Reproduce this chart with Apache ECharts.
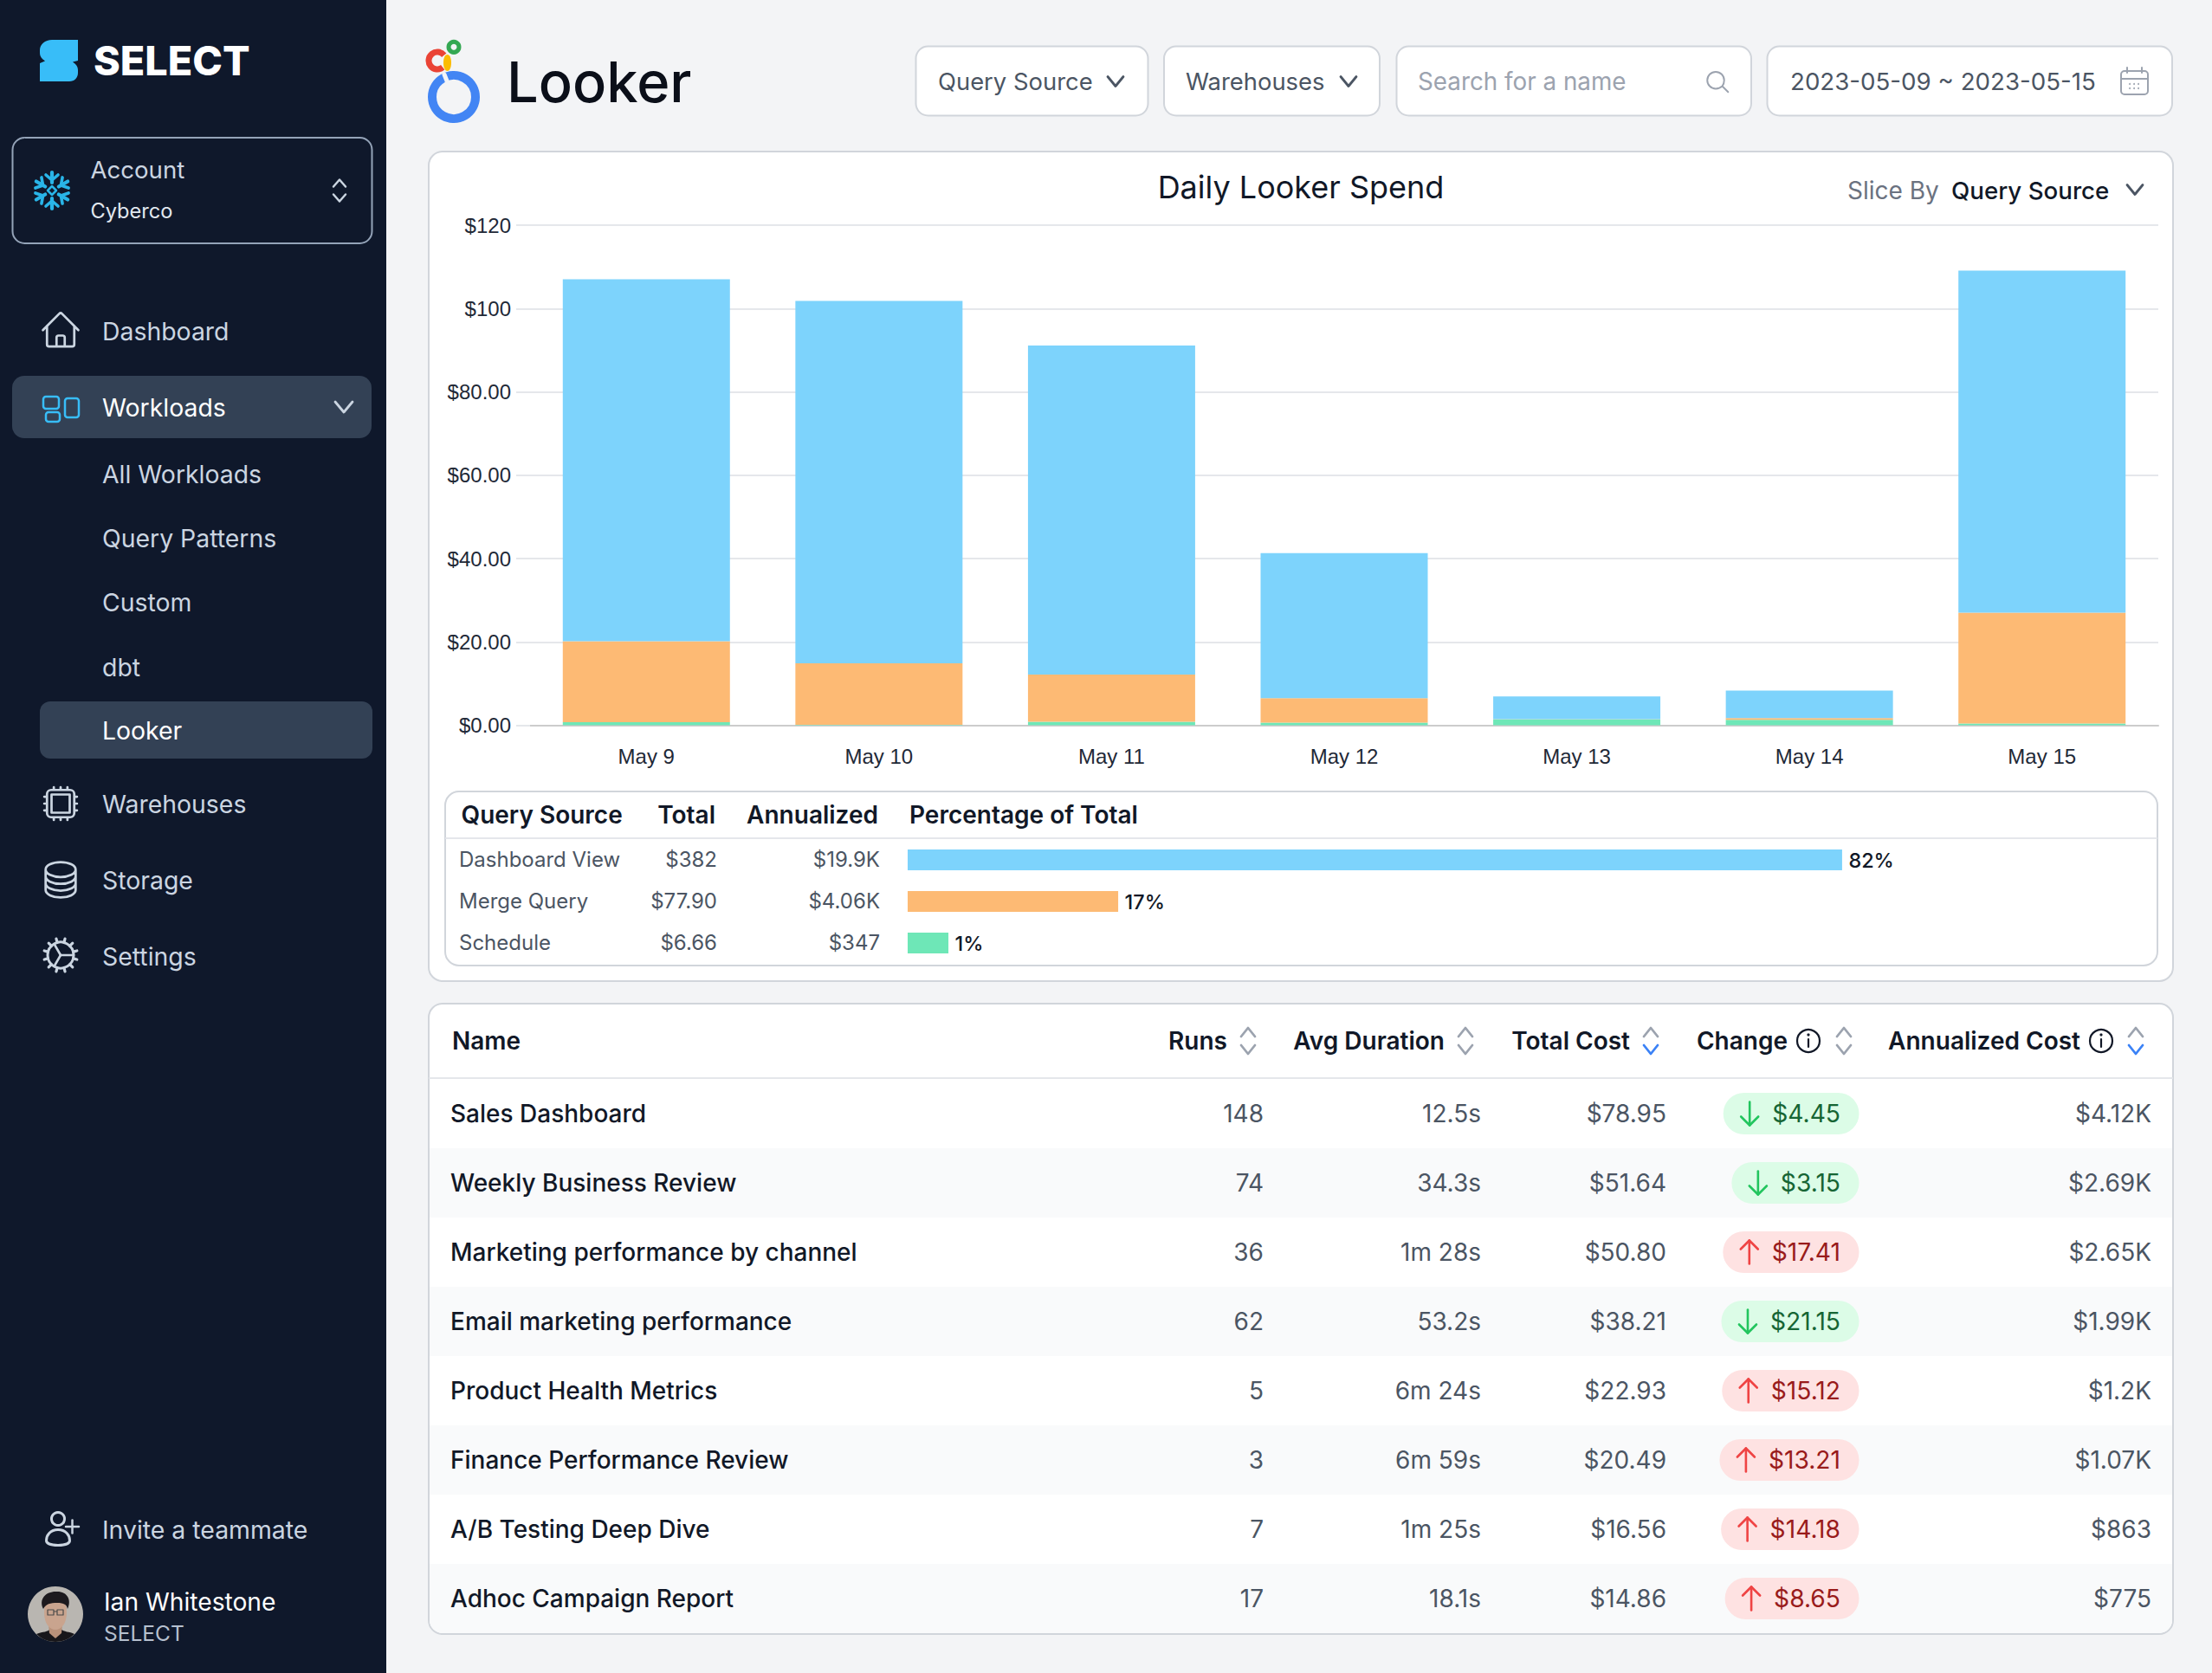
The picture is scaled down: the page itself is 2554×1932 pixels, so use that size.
<!DOCTYPE html>
<html><head><meta charset="utf-8">
<style>html,body{margin:0;padding:0;background:#f3f4f6;overflow:hidden}#c{width:2554px;height:1932px}</style>
<script src="https://cdn.jsdelivr.net/npm/echarts@6/dist/echarts.min.js"></script>
</head><body><div id="c"></div>
<script>
// ---------- chart data ----------
const days = ['May 9','May 10','May 11','May 12','May 13','May 14','May 15'];
const scheduleSpend = [0.75,0.1,0.85,0.6,1.4,1.3,0.4];
const mergeQuerySpend = [19.4,14.75,11.3,5.9,0.05,0.43,26.6];
const dashboardViewSpend = [86.85,86.95,78.95,34.8,5.45,6.57,82.1];
const yTickLabels = ['$0.00','$20.00','$40.00','$60.00','$80.00','$100','$120'];

const sourceNames = ['Dashboard View','Merge Query','Schedule'];
const sourceTotals = ['$382','$77.90','$6.66'];
const sourceAnnualized = ['$19.9K','$4.06K','$347'];
const sourcePctLabels = ['82%','17%','1%'];
const sourceBarLengths = [84.16,18.96,3.67];

const workloadNames = ['Sales Dashboard','Weekly Business Review','Marketing performance by channel','Email marketing performance','Product Health Metrics','Finance Performance Review','A/B Testing Deep Dive','Adhoc Campaign Report'];
const workloadRuns = ['148','74','36','62','5','3','7','17'];
const workloadDurations = ['12.5s','34.3s','1m 28s','53.2s','6m 24s','6m 59s','1m 25s','18.1s'];
const workloadCosts = ['$78.95','$51.64','$50.80','$38.21','$22.93','$20.49','$16.56','$14.86'];
const workloadChanges = ['$4.45','$3.15','$17.41','$21.15','$15.12','$13.21','$14.18','$8.65'];
const workloadTrend = ['down','down','up','down','up','up','up','up'];
const workloadAnnualized = ['$4.12K','$2.69K','$2.65K','$1.99K','$1.2K','$1.07K','$863','$775'];

// ---------- drawing helpers ----------
const INTER = 'Inter';
const E = [];
const G = echarts.graphic;
let pid = 0;
function rect(x,y,w,h,r,fill,stroke,lw,z){E.push({type:'rect',z:z==null?-10:z,shape:{x,y,width:w,height:h,r},style:{fill:fill||'none',stroke:stroke||'none',lineWidth:lw||0}});}
function txt(x,y,s,size,color,weight,align,family){E.push({type:'text',z:5,x,y,style:{text:s,fill:color,fontFamily:family||INTER,fontSize:size,fontWeight:weight||400,textAlign:align||'left',textVerticalAlign:'middle'}});}
function poly(points,color,lw){E.push({type:'polyline',z:5,shape:{points},style:{fill:'none',stroke:color,lineWidth:lw||2.5,lineCap:'round',lineJoin:'round'}});}
function circ(cx,cy,r,fill,stroke,lw,z){E.push({type:'circle',z:z==null?5:z,shape:{cx,cy,r},style:{fill:fill||'none',stroke:stroke||'none',lineWidth:lw||0}});}
function ell(cx,cy,rx,ry,fill){path(`M${cx-rx} ${cy}C${cx-rx} ${cy-ry*1.33} ${cx+rx} ${cy-ry*1.33} ${cx+rx} ${cy}C${cx+rx} ${cy+ry*1.33} ${cx-rx} ${cy+ry*1.33} ${cx-rx} ${cy}Z`,0,0,1,{fill});}
function path(d,x,y,s,style){const n='icon'+(pid++);G.registerShape(n,G.extendPath(d));E.push({type:n,z:6,x,y,scaleX:s,scaleY:s,style:Object.assign({fill:'none',lineCap:'round',lineJoin:'round'},style)});}
function chev(cx,cy,hw,hh,color,lw,up){const a=up?cy+hh:cy-hh,b=up?cy-hh:cy+hh;poly([[cx-hw,a],[cx,b],[cx+hw,a]],color,lw);}

// ---------- page chrome ----------
rect(0,0,446,1932,0,'#0f182b');
// logo
path('M60 46L90 46L90 70L84 71.5C87 74 90 76 90 81L90 84C90 90 86 94 80 94L46 94L46 73L52 70.5C49 68 46 66 46 61L46 58C46 51 52 46 60 46Z',0,0,1,{fill:'#38bdf8'});
txt(108,69.5,'SELECT',46.7,'#ffffff',800);
// account
rect(14.5,159,415,122,14,'none','#94a3b8',2);
for(let i=0;i<6;i++){const a=Math.PI/6+i*Math.PI/3,c=Math.cos(a),s=Math.sin(a),cx=60,cy=220;
  poly([[cx+c*9,cy+s*9],[cx+c*21,cy+s*21]],'#29b5e8',4.2);
  poly([[cx+c*18-s*7,cy+s*18+c*7],[cx+c*12,cy+s*12],[cx+c*18+s*7,cy+s*18-c*7]],'#29b5e8',3.6);}
path('M60 215L65 220L60 225L55 220Z',0,0,1,{stroke:'#29b5e8',lineWidth:2.5});
txt(104.5,196,'Account',27.6,'#cbd5e1');
txt(104.5,243.5,'Cyberco',23.6,'#e2e8f0');
chev(392,211.5,7,4,'#cbd5e1',2.5,true);chev(392,228.5,7,4,'#cbd5e1',2.5,false);
// nav
const IC='#cbd5e1',sw={stroke:IC,lineWidth:1.3},NAV=28.4;
path('M2.25 12l8.954-8.955c.44-.439 1.152-.439 1.591 0L21.75 12M4.5 9.75v10.125c0 .621.504 1.125 1.125 1.125H9.75v-4.875c0-.621.504-1.125 1.125-1.125h2.25c.621 0 1.125.504 1.125 1.125V21h4.125c.621 0 1.125-.504 1.125-1.125V9.75M8.25 21h8.25',44.8,356,2.1,sw);
txt(118,382.5,'Dashboard',NAV,'#cbd5e1',400);
rect(14,434,415,72,14,'#334155');
rect(50,458,18,14,3,'none','#38bdf8',2.5,5);rect(53,476,16,11,3,'none','#38bdf8',2.5,5);rect(75,460,16,22,3,'none','#38bdf8',2.5,5);
txt(118,470.5,'Workloads',NAV,'#ffffff',400);
chev(397,470,10,6,'#cbd5e1',2.8,false);
txt(118,547.5,'All Workloads',NAV,'#cbd5e1');
txt(118,621.5,'Query Patterns',NAV,'#cbd5e1');
txt(118,695.5,'Custom',NAV,'#cbd5e1');
txt(118,770.5,'dbt',NAV,'#cbd5e1');
rect(46,810,384,66,12,'#334155');
txt(118,843.5,'Looker',NAV,'#ffffff',400);
path('M8.25 3v1.5M4.5 8.25H3m18 0h-1.5M4.5 12H3m18 0h-1.5m-15 3.75H3m18 0h-1.5M8.25 19.5V21M12 3v1.5m0 15V21m3.75-18v1.5m0 15V21m-9-1.5h10.5c1.243 0 2.25-1.007 2.25-2.25V6.75c0-1.243-1.007-2.25-2.25-2.25H6.75C5.507 4.5 4.5 5.507 4.5 6.75v10.5c0 1.243 1.007 2.25 2.25 2.25zM7 7h10v10H7z',44.8,902.8,2.1,sw);
txt(118,928.5,'Warehouses',NAV,'#cbd5e1');
path('M20.25 6.375c0 2.278-3.694 4.125-8.25 4.125S3.75 8.653 3.75 6.375m16.5 0c0-2.278-3.694-4.125-8.25-4.125S3.75 4.097 3.75 6.375m16.5 0v11.25c0 2.278-3.694 4.125-8.25 4.125s-8.25-1.847-8.25-4.125V6.375m16.5 0v3.75m-16.5-3.75v3.75m16.5 0v3.75C20.25 16.153 16.556 18 12 18s-8.25-1.847-8.25-4.125v-3.75m16.5 0c0 2.278-3.694 4.125-8.25 4.125s-8.25-1.847-8.25-4.125',44.8,990.8,2.1,sw);
txt(118,1016.5,'Storage',NAV,'#cbd5e1');
// settings gear: ring, twelve teeth, three spokes
circ(70,1103,15,'none',IC,3);
for(let i=0;i<12;i++){const a=i*Math.PI/6+Math.PI/12,c=Math.cos(a),s=Math.sin(a);poly([[70+c*15,1103+s*15],[70+c*19.5,1103+s*19.5]],IC,3.2);}
for(let i=0;i<3;i++){const a=i*2*Math.PI/3,c=Math.cos(a),s=Math.sin(a);poly([[70,1103],[70+c*15,1103+s*15]],IC,2.6);}
txt(118,1104.5,'Settings',NAV,'#cbd5e1');
// invite
circ(67,1754,7.5,'none',IC,3);
path('M67 1766.5C58 1766.5 53.5 1773 53.5 1779C53.5 1782 58 1784.5 67 1784.5C76 1784.5 80.5 1782 80.5 1779C80.5 1773 76 1766.5 67 1766.5Z',0,0,1,{stroke:IC,lineWidth:3});
poly([[76,1763],[91,1763]],IC,2.5);poly([[83.5,1755.5],[83.5,1770.5]],IC,2.5);
txt(118,1766.5,'Invite a teammate',NAV,'#cbd5e1');
// avatar
circ(64,1864,32,'#b9b6b1');
path('M42 1887C50 1884 55 1885 58 1881L70 1881C74 1885 80 1884 86 1887C80 1893 72 1896 64 1896C56 1896 48 1893 42 1887Z',0,0,1,{fill:'#17161a'});
path('M56 1876L72 1876L71 1886L64 1892L57 1886Z',0,0,1,{fill:'#b8917a'});
ell(64,1862,13,20,'#c9a48e');
path('M50 1858C44 1846 54 1837 66 1838C78 1838 83 1848 78 1858C77 1853 74 1851 66 1851C58 1851 53 1852 50 1858Z',0,0,1,{fill:'#1d1a1e'});
path('M55 1859H62V1865H55ZM66 1859H73V1865H66ZM62 1861H66',0,0,1,{stroke:'#4a4a4a',lineWidth:1.2});
poly([[59,1873],[69,1873]],'#a3685a',1.6);
txt(120,1849.5,'Ian Whitestone',28.2,'#ffffff');
txt(120,1886,'SELECT',24.5,'#b6c0cf');
// looker logo
circ(524,112,25,'none','#4285f4',10);
poly([[513,86],[517,96]],'#f3f4f6',5);
E.push({type:'arc',z:6,shape:{cx:505,cy:70,r:10,startAngle:0.9,endAngle:5.6,clockwise:true},style:{fill:'none',stroke:'#ea4335',lineWidth:7}});
circ(524,54.3,6,'none','#34a853',5);
ell(516.5,72.5,4.5,9.5,'#fbbc04');
txt(585,94,'Looker',65,'#0b0f19',500);
// toolbar
[[1057.5,268],[1344,249],[1612.5,409.5],[2040.5,467.5]].forEach(b=>rect(b[0],53.5,b[1],80,14,'#ffffff','#d1d5db',2));
txt(1083,94,'Query Source',27.4,'#4b5563');chev(1288,94,9,5.5,'#4b5563',2.8,false);
txt(1369,94,'Warehouses',27.4,'#4b5563');chev(1557,94,9,5.5,'#4b5563',2.8,false);
txt(1637,94,'Search for a name',27.8,'#9ca3af');
path('M21 21l-5.197-5.197m0 0C16.76 14.445 17.5 13.2 17.5 10.5c0-4.142-3.358-7.5-7.5-7.5s-7.5 3.358-7.5 7.5 3.358 7.5 7.5 7.5c2.3 0 4.4-.9 5.803-2.197z',1968,79,1.3,{stroke:'#9ca3af',lineWidth:1.5});
txt(2067,94,'2023-05-09 ~ 2023-05-15',27.7,'#4b5563');
rect(2449,82,31,27,4,'none','#9ca3af',2,5);poly([[2449,91],[2480,91]],'#9ca3af',2);poly([[2456,78],[2456,84]],'#9ca3af',2);poly([[2473,78],[2473,84]],'#9ca3af',2);
[[2459,97],[2464,97],[2469,97],[2459,102],[2464,102],[2469,102]].forEach(p=>circ(p[0],p[1],1,'#9ca3af'));
// chart card
rect(495,175,2014,958,16,'#ffffff','#d1d5db',2);
txt(1502,216,'Daily Looker Spend',36,'#111827',400,'center');
txt(2133,220,'Slice By',28,'#6b7280');
txt(2253,220,'Query Source',27.7,'#111827',500);
chev(2465,219,9,5.5,'#4b5563',2.8,false);
// source table
rect(514,914,1977,201,16,'#ffffff','#d1d5db',2,-9);
poly([[515,968],[2490,968]],'#e5e7eb',2);
txt(532.5,941,'Query Source',28,'#111827',600);
txt(826,941,'Total',28,'#111827',600,'right');
txt(1014,941,'Annualized',28,'#111827',600,'right');
txt(1050,941,'Percentage of Total',28,'#111827',600);
sourceNames.forEach((n,i)=>{const y=992.5+i*48;
  txt(530,y,n,24,'#4b5563');txt(828,y,sourceTotals[i],24,'#4b5563',400,'right');txt(1016,y,sourceAnnualized[i],24,'#4b5563',400,'right');});
// workload card
rect(495,1159,2014,728,16,'#ffffff','#d1d5db',2);
[1,3,5,7].forEach(i=>rect(496,1246+i*80,2012,80,i===7?[0,0,15,15]:0,'#f9fafb',null,0,-9));
poly([[496,1245],[2508,1245]],'#e5e7eb',2);
txt(522,1202,'Name',28,'#111827',600);
txt(1417,1202,'Runs',28,'#111827',600,'right');
txt(1668,1202,'Avg Duration',28,'#111827',600,'right');
txt(1882,1202,'Total Cost',28,'#111827',600,'right');
txt(2064,1202,'Change',28,'#111827',600,'right');
txt(2402,1202,'Annualized Cost',28,'#111827',600,'right');
function sorter(x,active){chev(x,1192,8,5,'#9ca3af',2.8,true);chev(x,1212,8,5,active?'#3b82f6':'#9ca3af',2.8,false);}
sorter(1441,false);sorter(1692,false);sorter(1906,true);sorter(2129,false);sorter(2466,true);
function info(x){circ(x,1202,13,'none','#111827',2.2);poly([[x,1200],[x,1209]],'#111827',2.2);circ(x,1195,1.6,'#111827');}
info(2088);info(2426);
const measure=document.createElement('canvas').getContext('2d');measure.font='400 28.2px Inter';
workloadNames.forEach((n,i)=>{const y=1286+i*80;
  txt(520,y,n,28,'#111827',500);
  txt(1459,y,workloadRuns[i],28,'#4b5563',400,'right');
  txt(1710,y,workloadDurations[i],28,'#4b5563',400,'right');
  txt(1924,y,workloadCosts[i],28,'#4b5563',400,'right');
  txt(2484,y,workloadAnnualized[i],28,'#4b5563',400,'right');
  const up=workloadTrend[i]==='up',w=measure.measureText(workloadChanges[i]).width;
  rect(2146.5-(w+78),y-24,w+78,48,24,up?'#fee2e2':'#dcfce7',null,0,2);
  txt(2125,y,workloadChanges[i],28.2,up?'#991b1b':'#166534',400,'right');
  const ax=2125-w-26,c=up?'#ef4444':'#22c55e',tip=up?y-13.5:y+13.5,tail=up?y+13.5:y-13.5,bk=up?tip+10:tip-10;
  poly([[ax,tail],[ax,tip]],c,2.6);poly([[ax-10,bk],[ax,tip],[ax+10,bk]],c,2.6);
});

// ---------- chart ----------
const chart = echarts.init(document.getElementById('c'),null,{renderer:'svg',width:2554,height:1932});
const axisText = {fontFamily:'Liberation Sans',fontSize:24,color:'#1f2937'};
chart.setOption({
  animation:false,
  graphic:{elements:E},
  grid:[
    {left:612,top:260,width:1880,height:577.5,containLabel:false},
    {left:1048,top:969,width:1282,height:144}
  ],
  xAxis:[
    {type:'category',gridIndex:0,data:days,axisTick:{show:false},axisLine:{lineStyle:{color:'#cccccc',width:2}},axisLabel:Object.assign({margin:24},axisText)},
    {type:'value',gridIndex:1,min:0,max:100,show:false}
  ],
  yAxis:[
    {type:'value',gridIndex:0,min:0,max:120,interval:20,axisLine:{show:false},axisTick:{show:true,length:16,lineStyle:{color:'#e5e7eb',width:2}},splitLine:{lineStyle:{color:'#e5e7eb',width:2}},
     axisLabel:Object.assign({margin:22,formatter:(v)=>yTickLabels[v/20]},axisText)},
    {type:'category',gridIndex:1,inverse:true,show:false,data:sourceNames}
  ],
  series:[
    {name:'Schedule',type:'bar',stack:'spend',xAxisIndex:0,yAxisIndex:0,barWidth:193,data:scheduleSpend,itemStyle:{color:'#6ee7b7'}},
    {name:'Merge Query',type:'bar',stack:'spend',xAxisIndex:0,yAxisIndex:0,barWidth:193,data:mergeQuerySpend,itemStyle:{color:'#fdba74'}},
    {name:'Dashboard View',type:'bar',stack:'spend',xAxisIndex:0,yAxisIndex:0,barWidth:193,data:dashboardViewSpend,itemStyle:{color:'#7dd3fc'}},
    {name:'Percentage of Total',type:'bar',xAxisIndex:1,yAxisIndex:1,barWidth:24,
     data:sourceBarLengths.map((v,i)=>({value:v,itemStyle:{color:['#7dd3fc','#fdba74','#6ee7b7'][i]}})),
     label:{show:true,position:'right',distance:7.5,formatter:p=>sourcePctLabels[p.dataIndex],fontFamily:INTER,fontSize:23.4,fontWeight:500,color:'#111827'}}
  ]
});
</script></body></html>
